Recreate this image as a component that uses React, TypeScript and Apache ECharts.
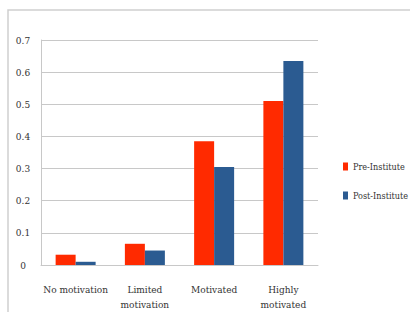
import React, { useEffect, useRef } from "react";
import * as echarts from "echarts";

const categories = ["No motivation", "Limited\nmotivation", "Motivated", "Highly\nmotivated"];
const preInstitute = [0.032, 0.066, 0.385, 0.51];
const postInstitute = [0.01, 0.045, 0.305, 0.635];
const seriesNames = ["Pre-Institute", "Post-Institute"];

const FONT = "'DejaVu Serif Condensed', 'DejaVu Serif', serif";

export default function App() {
  const ref = useRef<HTMLDivElement>(null);
  useEffect(() => {
    const chart = echarts.init(ref.current!, undefined, { renderer: "svg" });
    chart.setOption({
      animation: false,
      backgroundColor: "#ffffff",
      textStyle: { fontFamily: FONT, color: "#333" },
      graphic: [
        {
          type: "rect",
          shape: { x: 8, y: 10, width: 420, height: 320 },
          style: { fill: "none", stroke: "#cfcfcf", lineWidth: 1.5 },
          silent: true,
        },
      ],
      grid: { left: 41, right: 92, top: 40, bottom: 43 },
      legend: {
        orient: "vertical",
        left: 338,
        top: 157,
        itemWidth: 5,
        itemHeight: 8,
        itemGap: 20,
        itemStyle: { borderWidth: 0 },
        icon: "rect",
        textStyle: { fontFamily: FONT, fontSize: 9, color: "#333" },
        data: seriesNames,
      },
      xAxis: {
        type: "category",
        data: categories,
        axisLine: { show: true, lineStyle: { color: "#c8c8c8" } },
        axisTick: { show: false },
        axisLabel: { fontFamily: FONT, fontSize: 10, color: "#333", margin: 17, lineHeight: 15, interval: 0 },
      },
      yAxis: {
        type: "value",
        min: 0,
        max: 0.7,
        interval: 0.1,
        axisLine: { show: true, lineStyle: { color: "#c8c8c8" } },
        axisTick: { show: false },
        splitLine: { lineStyle: { color: "#c8c8c8" } },
        axisLabel: {
          fontFamily: FONT,
          fontSize: 10,
          color: "#333",
          margin: 18,
          align: "center",
          formatter: (v: number) => (v === 0 ? "0" : String(Math.round(v * 10) / 10)),
        },
      },
      series: [
        {
          name: seriesNames[0],
          type: "bar",
          data: preInstitute,
          barWidth: 20,
          barGap: "0%",
          itemStyle: { color: "#ff2a00" },
        },
        {
          name: seriesNames[1],
          type: "bar",
          data: postInstitute,
          barWidth: 20,
          barGap: "0%",
          itemStyle: { color: "#2b5b91" },
        },
      ],
    });
    return () => chart.dispose();
  }, []);
  return (
    <div
      ref={ref}
      style={{ position: "absolute", left: 0, top: 0, width: 410, height: 312 }}
    />
  );
}
